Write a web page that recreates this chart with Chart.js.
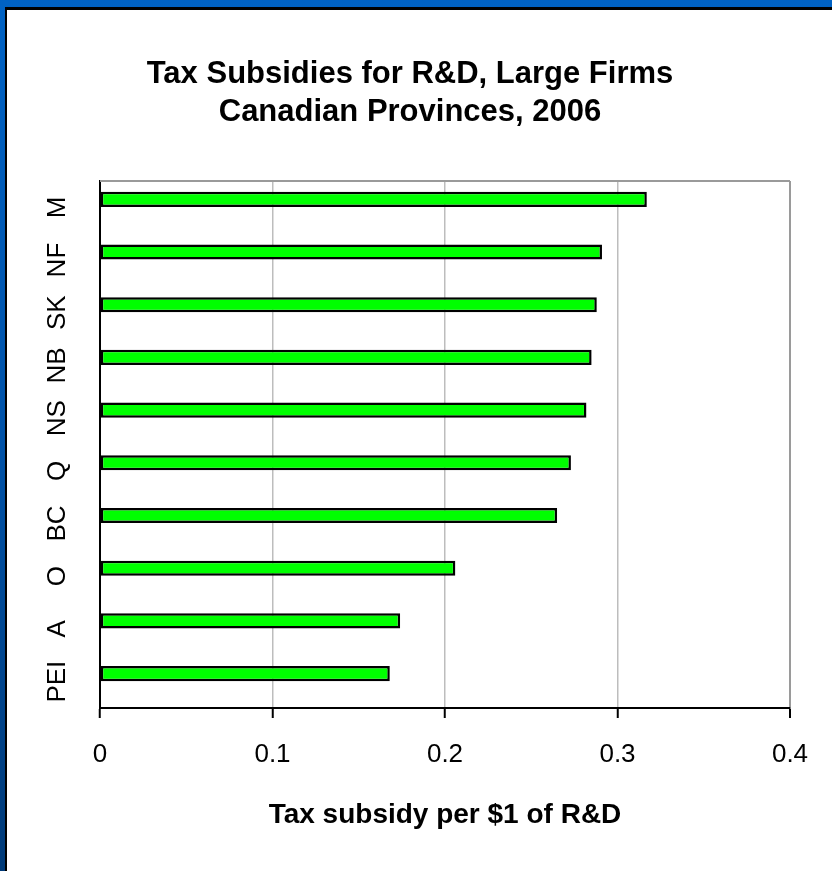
<!DOCTYPE html>
<html>
<head>
<meta charset="utf-8">
<script src="https://cdn.jsdelivr.net/npm/chart.js@4.4.1/dist/chart.umd.min.js"></script>
<style>
  html, body { margin: 0; padding: 0; }
  body {
    width: 832px; height: 871px; overflow: hidden; position: relative;
    background: linear-gradient(to bottom, #0062c4 0%, #0052a8 50%, #003a78 100%);
  }
  #panel {
    position: absolute; left: 5px; top: 7px;
    width: 827px; height: 864px;
    background: #fff;
    border-left: 2px solid #000; border-top: 3px solid #000;
  }
  #roomChart { position: absolute; left: 0; top: 0; }
</style>
</head>
<body>
<div id="panel"><canvas id="roomChart" width="806" height="861"></canvas></div>
<script>
// provinces, top to bottom
const provinces = ['M', 'NF', 'SK', 'NB', 'NS', 'Q', 'BC', 'O', 'A', 'PEI'];
// tax subsidy per $1 of R&D
const subsidies = [0.317, 0.291, 0.288, 0.285, 0.282, 0.273, 0.265, 0.206, 0.174, 0.168];
// second series of the sheet is empty, it only reserves the lower half of each slot
const blankSeries = [null, null, null, null, null, null, null, null, null, null];

const fontFamily = "'Liberation Sans', Arial, sans-serif";

// gray frame line along the top of the plot area
const plotFrame = {
  id: 'plotFrame',
  beforeDatasetsDraw(chart) {
    const { ctx, chartArea } = chart;
    ctx.save();
    ctx.strokeStyle = '#9a9a9a';
    ctx.lineWidth = 2;
    ctx.beginPath();
    ctx.moveTo(chartArea.left, chartArea.top);
    ctx.lineTo(chartArea.right, chartArea.top);
    ctx.stroke();
    ctx.restore();
  }
};

const ctx = document.getElementById('roomChart').getContext('2d');

new Chart(ctx, {
  type: 'bar',
  data: {
    labels: provinces,
    datasets: [{
      data: subsidies,
      backgroundColor: '#00ff00',
      borderColor: '#000000',
      borderWidth: 2.5,
      borderSkipped: false,
      barPercentage: 0.94,
      categoryPercentage: 0.61
    }, {
      data: blankSeries,
      backgroundColor: '#00ff00',
      barPercentage: 0.94,
      categoryPercentage: 0.61
    }]
  },
  options: {
    indexAxis: 'y',
    responsive: false,
    animation: false,
    devicePixelRatio: 1,
    layout: { padding: { left: 23, right: 23, top: 0, bottom: 0 } },
    plugins: {
      legend: { display: false },
      tooltip: { enabled: false },
      title: {
        display: true,
        text: ['Tax Subsidies for R&D, Large Firms', 'Canadian Provinces, 2006'],
        color: '#000',
        font: { family: fontFamily, size: 31, weight: 'bold', lineHeight: 1.226 },
        padding: { top: 45, bottom: 50 }
      }
    },
    scales: {
      x: {
        min: 0,
        max: 0.4,
        ticks: {
          stepSize: 0.1,
          color: '#000',
          padding: 21,
          font: { family: fontFamily, size: 26 }
        },
        grid: {
          color: (c) => c.tick && c.tick.value === 0 ? 'rgba(0,0,0,0)' : (c.tick && c.tick.value >= 0.4 ? '#9a9a9a' : '#bdbdbd'),
          lineWidth: (c) => c.tick && c.tick.value >= 0.4 ? 2 : 1.5,
          tickColor: '#000',
          tickLength: 10,
          tickWidth: 2
        },
        border: { display: true, color: '#000', width: 2 },
        title: {
          display: true,
          text: 'Tax subsidy per $1 of R&D',
          color: '#000',
          font: { family: fontFamily, size: 28, weight: 'bold' },
          padding: { top: 0, bottom: 39 }
        },
        afterFit: (scale) => {
          scale.height = 163;
          // the layout padding already leaves room for the last tick label
          scale.paddingRight = 0;
        }
      },
      y: {
        ticks: {
          color: '#000',
          minRotation: 90,
          maxRotation: 90,
          crossAlign: 'center',
          padding: 21,
          autoSkip: false,
          font: { family: fontFamily, size: 26 }
        },
        grid: { display: false, drawTicks: false },
        border: { display: true, color: '#000', width: 2 },
        afterFit: (scale) => { scale.width = 70; }
      }
    }
  },
  plugins: [plotFrame]
});
</script>
</body>
</html>
